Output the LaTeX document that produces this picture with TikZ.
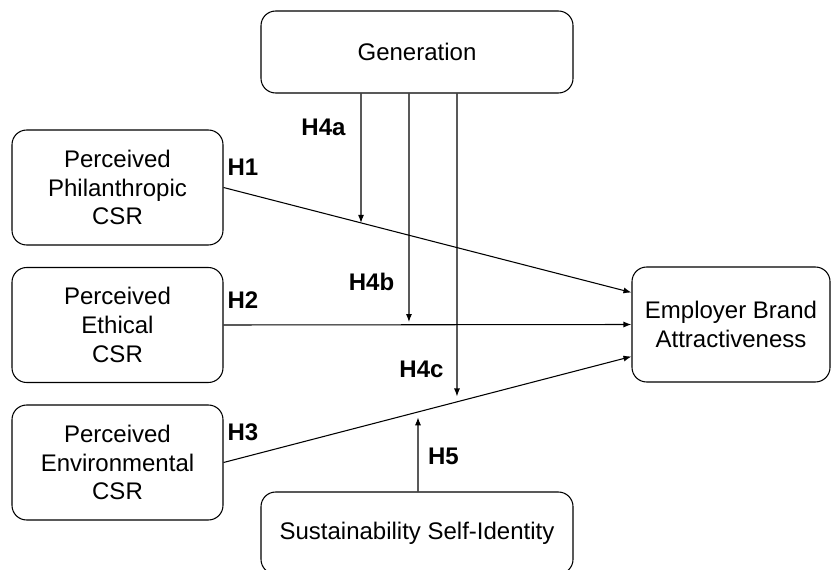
\documentclass[tikz,border=0pt]{standalone}
\usepackage{fontspec}
\setmainfont{Liberation Sans}
\usetikzlibrary{arrows.meta}

\begin{document}
\begin{tikzpicture}[x=0.75pt, y=-0.75pt, line width=0.8pt, >={Latex[length=6pt,width=4.5pt]},
        box/.style = {draw, rounded corners=11pt, align=center, inner sep=0pt, font=\fontsize{18}{21.5}\selectfont},
        lbl/.style = {inner sep=0pt, font=\fontsize{18}{21.5}\selectfont\bfseries}]
        \useasboundingbox (0,0) rectangle (831,570);
        \clip (0,0) rectangle (831,570);

        \node[box, minimum width=234pt, minimum height=61.5pt] (gen) at (417,52) {Generation};
        \node[box, minimum width=158.25pt, minimum height=86.25pt] (phil) at (117.5,187.5) {Perceived\\Philanthropic\\CSR};
        \node[box, minimum width=158.25pt, minimum height=86.25pt] (eth) at (117.5,325) {Perceived\\Ethical\\CSR};
        \node[box, minimum width=158.25pt, minimum height=86.25pt] (env) at (117.5,462.5) {Perceived\\Environmental\\CSR};
        \node[box, minimum width=148.5pt, minimum height=86.25pt] (eba) at (731,324.5) {Employer Brand\\Attractiveness};
        \node[box, minimum width=234pt, minimum height=61.5pt] (ssi) at (417,533) {Sustainability Self-Identity};

        % end points on the attractiveness box
        \coordinate (e_1) at ([yshift=24pt]eba.west);
        \coordinate (e_3) at ([yshift=-24pt]eba.west);

        % direct effects
        \draw[->] (phil.east) -- (e_1);
        \draw[->] (eth.east) -- (eba.west);
        \draw[->] (env.east) -- (e_3);

        % moderators
        \coordinate (v_a) at (361,0);
        \coordinate (v_b) at (409,0);
        \coordinate (v_c) at (457,0);
        \coordinate (v_d) at (418,0);
        \draw[->] (gen.south -| v_a) -- (intersection of phil.east--e_1 and v_a--{361,600});
        \draw[->] (gen.south -| v_b) -- ([yshift=2pt]intersection of eth.east--eba.west and v_b--{409,600});
        \draw[->, shorten >=4pt] (gen.south -| v_c) -- (intersection of env.east--e_3 and v_c--{457,600});
        \draw[->, shorten >=4pt] (ssi.north -| v_d) -- (intersection of env.east--e_3 and v_d--{418,600});

        \node[lbl] (l_1) at (243,167.5) {H1};
        \node[lbl] (l_2) at (243,300) {H2};
        \node[lbl] (l_3) at (243,432) {H3};
        \node[lbl] (l_4a) at (323.5,127.5) {H4a};
        \node[lbl] (l_4b) at (371.5,282) {H4b};
        \node[lbl] (l_4c) at (421.5,369) {H4c};
        \node[lbl] (l_5) at (443.5,456.5) {H5};
    \end{tikzpicture}
\end{document}
